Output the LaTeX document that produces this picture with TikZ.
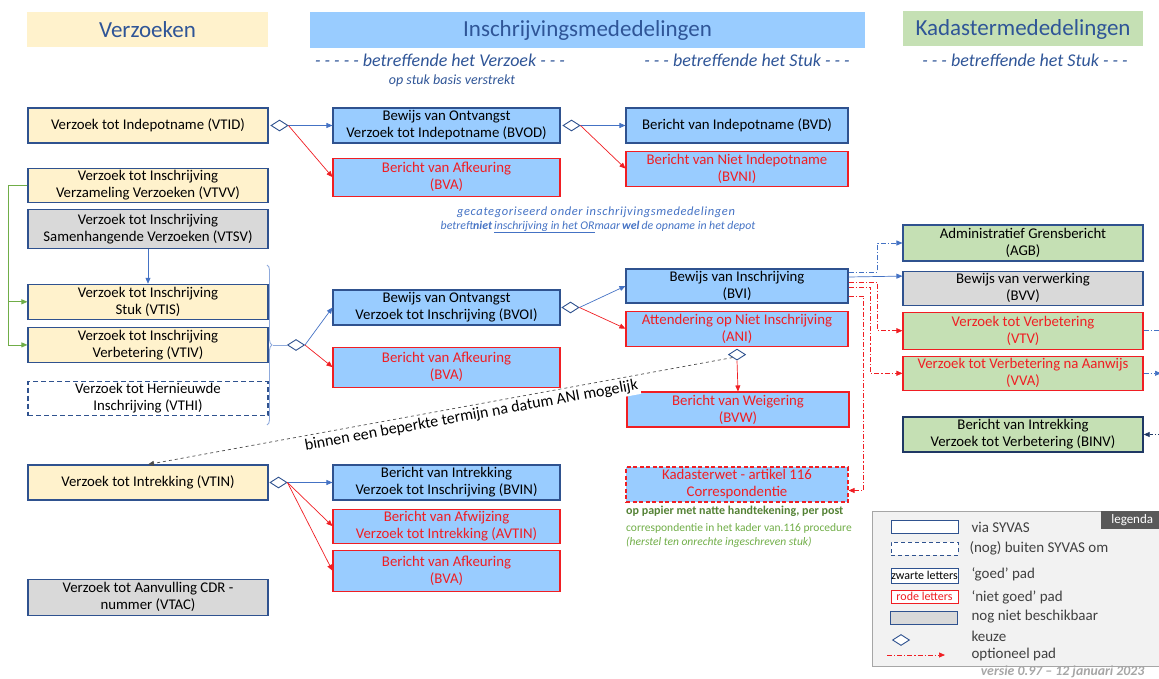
\documentclass[tikz,border=0pt]{standalone}
\usepackage{fontspec}
\setmainfont{Carlito}
\usepackage{xcolor}
\usepackage{tikz}
\usetikzlibrary{shapes.geometric,arrows.meta,positioning,decorations.pathreplacing}

\definecolor{vzgeel}{HTML}{FFF2CC}
\definecolor{isblauw}{HTML}{99CCFF}
\definecolor{kdgroen}{HTML}{C5E0B4}
\definecolor{nvgrijs}{HTML}{D9D9D9}
\definecolor{rand}{HTML}{2F528F}
\definecolor{donker}{HTML}{1F3864}
\definecolor{kopblauw}{HTML}{2F5597}
\definecolor{lijnblauw}{HTML}{4472C4}
\definecolor{haak}{HTML}{8FAADC}
\definecolor{fout}{HTML}{F01E23}
\definecolor{groen}{HTML}{70AD47}
\definecolor{dgroen}{HTML}{548235}
\definecolor{leggrijs}{HTML}{F2F2F2}
\definecolor{leglijn}{HTML}{A6A6A6}
\definecolor{legkopkleur}{HTML}{595959}
\definecolor{legtxt}{HTML}{404040}
\definecolor{versgrijs}{HTML}{A6A6A6}

\begin{document}
\begin{tikzpicture}[
    x=1pt, y=-1pt,
    box/.style={rectangle, draw=rand, line width=1.1pt, align=center, inner sep=1pt, minimum height=35pt, font=\fontsize{14.8}{17}\selectfont},
    ybox/.style={box, fill=vzgeel, minimum width=240pt},
    bbox/.style={box, fill=isblauw, minimum width=227pt},
    gbox/.style={box, fill=kdgroen, minimum width=240pt},
    nvbox/.style={box, fill=nvgrijs, minimum width=240pt},
    nietgoed/.style={draw=fout, text=fout},
    kop/.style={rectangle, minimum height=35pt, text=kopblauw, font=\fontsize{23}{27}\selectfont},
    sub/.style={text=kopblauw, font=\itshape\fontsize{18}{21}\selectfont},
    keuze/.style={diamond, draw=rand, fill=white, line width=0.9pt, minimum width=17pt, minimum height=11pt, inner sep=0pt},
    pijl/.style={-{Triangle[length=6pt,width=5pt]}, line width=0.7pt},
    blauw/.style={pijl, draw=lijnblauw},
    rood/.style={pijl, draw=fout},
    optie/.style={pijl, dash pattern=on 5pt off 2pt on 1.2pt off 2pt},
    legvak/.style={rectangle, draw=rand, fill=white, line width=1pt, minimum width=67pt, minimum height=13pt, inner sep=0pt},
    legtekst/.style={anchor=west, text=legtxt, font=\fontsize{15}{17}\selectfont}
]
    \useasboundingbox (0,0) rectangle (1159,679);

    % Koppen
    \node[kop, fill=vzgeel, minimum width=241pt] (kverz) at (147.5,29.5) {Verzoeken};
    \node[kop, fill=isblauw, minimum width=555pt, minimum height=36pt] (kinsch) at (587.5,30) {Inschrijvingsmededelingen};
    \node[kop, fill=kdgroen, minimum width=240pt] (kkad) at (1023,29) {Kadastermededelingen};
    \node[sub] (sverz) at (440,60) {- - - - - betreffende het Verzoek - - -};
    \node[sub] (sstuk) at (747,60) {- - - betreffende het Stuk - - -};
    \node[sub] (skad) at (1025,60) {- - - betreffende het Stuk - - -};
    \node[text=kopblauw, font=\itshape\fontsize{14}{16}\selectfont] (basis) at (452,81) {op stuk basis verstrekt};

    % Verzoeken
    \node[ybox] (vtid) at (148,125.5) {Verzoek tot Indepotname (VTID)};
    \node[ybox, below=24pt of vtid, minimum height=34pt] (vtvv) {Verzoek tot Inschrijving\\Verzameling Verzoeken (VTVV)};
    \node[nvbox, below=6pt of vtvv, minimum height=39pt] (vtsv) {Verzoek tot Inschrijving\\Samenhangende Verzoeken (VTSV)};
    \node[ybox, below=35pt of vtsv] (vtis) {Verzoek tot Inschrijving\\Stuk (VTIS)};
    \node[ybox, below=7pt of vtis] (vtiv) {Verzoek tot Inschrijving\\Verbetering (VTIV)};
    \node[box, minimum width=240pt, dash pattern=on 5pt off 3pt, below=18pt of vtiv, minimum height=34pt] (vthi) {Verzoek tot Hernieuwde\\Inschrijving (VTHI)};
    \node[ybox] (vtin) at (148,482.5) {Verzoek tot Intrekking (VTIN)};
    \node[nvbox, below=78pt of vtin, minimum height=36pt] (vtac) {Verzoek tot Aanvulling CDR -\\nummer (VTAC)};

    % Inschrijvingsmededelingen - Verzoek
    \node[bbox] (bvod) at (446.5,125.5) {Bewijs van Ontvangst\\Verzoek tot Indepotname (BVOD)};
    \node[bbox, nietgoed, below=14pt of bvod, minimum height=38pt] (bva1) {Bericht van Afkeuring\\(BVA)};
    \node[bbox] (bvoi) at (446.5,307.5) {Bewijs van Ontvangst\\Verzoek tot Inschrijving (BVOI)};
    \node[bbox, nietgoed, below=21pt of bvoi, minimum height=40pt] (bva2) {Bericht van Afkeuring\\(BVA)};
    \node[bbox] (bvin) at (446.5,482.5) {Bericht van Intrekking\\Verzoek tot Inschrijving (BVIN)};
    \node[bbox, nietgoed, below=8pt of bvin, minimum height=34pt] (avtin) {Bericht van Afwijzing\\Verzoek tot Intrekking (AVTIN)};
    \node[bbox, nietgoed, below=6pt of avtin, minimum height=41pt] (bva3) {Bericht van Afkeuring\\(BVA)};

    % Inschrijvingsmededelingen - Stuk
    \node[bbox, minimum width=222pt] (bvd) at (737,125.5) {Bericht van Indepotname (BVD)};
    \node[bbox, nietgoed, minimum width=222pt, below=7pt of bvd] (bvni) {Bericht van Niet Indepotname\\(BVNI)};
    \node[bbox, minimum width=222pt, minimum height=34pt] (bvi) at (737,286) {Bewijs van Inschrijving\\(BVI)};
    \node[bbox, nietgoed, minimum width=222pt, below=7pt of bvi] (ani) {Attendering op Niet Inschrijving\\(ANI)};
    \node[bbox, nietgoed, minimum width=222pt] (bvw) at (738,409.5) {Bericht van Weigering\\(BVW)};
    \node[bbox, nietgoed, minimum width=222pt, dash pattern=on 4pt off 2.5pt] (kad) at (737,484.5) {Kadasterwet - artikel 116\\Correspondentie};

    % Kadastermededelingen
    \node[gbox, minimum height=36pt] (agb) at (1023,243) {Administratief Grensbericht\\(AGB)};
    \node[nvbox, below=9pt of agb, minimum height=34pt] (bvv) {Bewijs van verwerking\\(BVV)};
    \node[gbox, nietgoed, below=6pt of bvv, minimum height=37pt] (vtv) {Verzoek tot Verbetering\\(VTV)};
    \node[gbox, nietgoed, below=6pt of vtv, minimum height=34pt] (vva) {Verzoek tot Verbetering na Aanwijs\\(VVA)};
    \node[gbox, draw=donker, line width=1.4pt] (binv) at (1023,434.5) {Bericht van Intrekking\\Verzoek tot Verbetering (BINV)};

    % Keuzes
    \node[keuze, right=2pt of vtid] (d1) {};
    \node[keuze, right=2pt of bvod] (d2) {};
    \node[keuze] (d3) at (296,345) {};
    \node[keuze, right=1pt of bvoi] (d4) {};
    \node[keuze, below=2pt of ani] (d5) {};
    \node[keuze, right=1pt of vtin] (d6) {};

    % Verbindingen
    \draw[blauw] (d1.east) -- (bvod.west);
    \draw[rood] (d1.east) -- (bva1.west);
    \draw[blauw] (d2.east) -- (bvd.west);
    \draw[rood] (d2.east) -- (bvni.west);
    \draw[decorate, decoration={brace, amplitude=5pt}, draw=haak, line width=0.9pt] (267,265) -- (267,425);
    \coordinate (haakpunt) at (273,345);
    \draw[draw=haak, line width=0.9pt] (haakpunt) -- (d3.west);
    \draw[blauw] (d3.east) -- (bvoi.west);
    \draw[rood] (d3.east) -- (bva2.west);
    \draw[blauw] (d4.east) -- (bvi.west);
    \draw[rood] (d4.east) -- (ani.west);
    \draw[rood] (d5.south) -- (bvw.north);
    \draw[blauw] (d6.east) -- (bvin.west);
    \draw[rood] (d6.east) -- (avtin.west);
    \draw[rood] (d6.east) -- (bva3.west);
    \draw[blauw] (vtsv.south) -- (vtis.north);

    \coordinate (groenx) at (8,0);
    \draw[draw=groen, line width=0.9pt] (vtvv.west) -- (groenx |- vtvv.west) -- (groenx |- vtiv.west);
    \draw[pijl, draw=groen] (groenx |- vtis.west) -- (vtis.west);
    \draw[pijl, draw=groen] (groenx |- vtiv.west) -- (vtiv.west);

    \draw[pijl, dashed, draw=black!70] (d5.south west) -- node[pos=0.45, sloped, below=1pt, fill=white, inner sep=2pt, text=black, font=\fontsize{16}{18}\selectfont] {binnen een beperkte termijn na datum ANI mogelijk} (vtin.north);

    % Vanuit BVI
    \draw[optie, draw=lijnblauw] ([yshift=14pt]bvi.east) -- ++(29,0) |- (agb.west);
    \draw[blauw] ([yshift=9pt]bvi.east) -- ([yshift=12pt]bvv.west);
    \draw[optie, draw=fout] ([yshift=4pt]bvi.east) -- ++(29,0) |- (vtv.west);
    \draw[optie, draw=fout] ([yshift=-1pt]bvi.east) -- ++(22,0) |- (vva.west);
    \draw[optie, draw=fout] ([yshift=-10pt]bvi.east) -- ++(15,0) |- ([yshift=-6pt]kad.east);

    % Rechterrand
    \coordinate (rechts) at (1159,0);
    \draw[dash pattern=on 5pt off 2pt on 1.2pt off 2pt, draw=lijnblauw, line width=0.7pt] (vtv.east) -- (rechts |- vtv.east);
    \draw[optie, draw=lijnblauw] (vva.east) -- ([xshift=2pt]rechts |- vva.east);
    \draw[optie, draw=donker] ([xshift=4pt]rechts |- binv.east) -- (binv.east);

    % Toelichtingen
    \node[text=lijnblauw, font=\itshape\fontsize{12.5}{14}\selectfont\addfontfeatures{LetterSpace=5}] (gecat) at (596,212) {gecategoriseerd onder inschrijvingsmededelingen};
    \node[text=lijnblauw, font=\itshape\fontsize{11.8}{13}\selectfont] (depot) at (598,227) {betreft\textbf{niet}\,\underline{inschrijving in het OR}maar\,\textbf{wel}\,de opname in het depot};
    \node[anchor=west, inner sep=0pt, text=dgroen, font=\bfseries\fontsize{12}{14}\selectfont] (papier) at (626,511) {op papier met natte handtekening, per post};
    \node[anchor=north west, inner sep=0pt, text=groen, align=left, font=\fontsize{11.5}{14}\selectfont] (corr) at (626,523) {correspondentie in het kader van.116 procedure\\\textit{(herstel ten onrechte ingeschreven stuk)}};

    % Legenda
    \node[draw=leglijn, fill=leggrijs, line width=1pt, minimum width=300pt, minimum height=155pt, anchor=north west] (legenda) at (872,511) {};
    \node[fill=legkopkleur, text=white, anchor=north west, minimum width=62pt, minimum height=18pt, inner sep=0pt, font=\fontsize{13}{15}\selectfont] (legkop) at (1101,511) {legenda};
    \node[legvak] (lv1) at (924.5,526.5) {};
    \node[legvak, dash pattern=on 4pt off 3pt] (lv2) at (924.5,548.5) {};
    \node[legvak, minimum height=15pt, font=\fontsize{12}{13}\selectfont] (lv3) at (924.5,575.5) {zwarte letters};
    \node[legvak, draw=fout, text=fout, font=\fontsize{12}{13}\selectfont] (lv4) at (924.5,596.5) {rode letters};
    \node[legvak, fill=nvgrijs] (lv5) at (924,618) {};
    \node[keuze] (lv6) at (901,640) {};
    \coordinate (lv7a) at (887,655);
    \coordinate (lv7b) at (945,655);
    \draw[optie, draw=fout] (lv7a) -- (lv7b);
    \node[legtekst] (lt1) at (968,527) {via SYVAS};
    \node[legtekst] (lt2) at (966,548) {(nog) buiten SYVAS om};
    \node[legtekst] (lt3) at (968,574) {‘goed’ pad};
    \node[legtekst] (lt4) at (968,597) {‘niet goed’ pad};
    \node[legtekst] (lt5) at (968,617) {nog niet beschikbaar};
    \node[legtekst] (lt6) at (968,636) {keuze};
    \node[legtekst] (lt7) at (968,654) {optioneel pad};
    \node[anchor=east, text=versgrijs, font=\bfseries\itshape\fontsize{13.8}{15}\selectfont] (versie) at (1148,672) {versie 0.97 – 12 januari 2023};
\end{tikzpicture}
\end{document}
